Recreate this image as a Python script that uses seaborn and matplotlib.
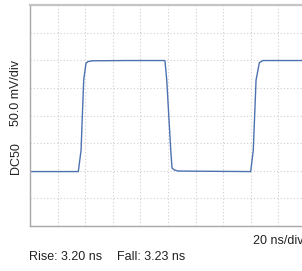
import numpy as np
import pandas as pd
import matplotlib
matplotlib.use("Agg")
import matplotlib.pyplot as plt
import seaborn as sns

# Scope trace: time in ns, level in mV (50 mV/div, 20 ns/div)
time_ns = [0, 35.0, 37.0, 38.9, 40.6, 42.0, 44.9, 70.0, 97.1,
           97.8, 99.1, 102.0, 102.9, 104.5, 107.2, 130.0, 159.9,
           161.8, 163.8, 166.2, 168.8, 185.0, 202.0]
level_mv = [98.5, 98.5, 137.0, 264.0, 295.0, 297.5, 299.0, 299.5, 299.5,
            299.0, 264.0, 137.0, 105.0, 101.5, 99.5, 99.0, 98.5,
            137.0, 264.0, 295.5, 299.5, 299.5, 299.5]

rise_txt = "Rise: 3.20 ns"
fall_txt = "Fall: 3.23 ns"
x_scale = "20 ns/div"
y_scale = "50.0 mV/div"
coupling = "DC50"

df = pd.DataFrame({"t": time_ns, "v": level_mv})

sns.set_style("white")
plt.rcParams['font.family'] = ['Liberation Sans', 'DejaVu Sans']

fig = plt.figure(figsize=(3.02, 2.71), dpi=100)
ax = fig.add_axes([30 / 302, 45 / 271, 276 / 302, 221 / 271])

sns.lineplot(data=df, x="t", y="v", ax=ax, color="#4C72B0", linewidth=1.0,
             sort=False, estimator=None)

ax.set_xlim(0, 200)
ax.set_ylim(0, 400)
ax.set_xticks(np.arange(0, 201, 20))
ax.set_yticks(np.arange(0, 401, 50))
ax.tick_params(length=0, labelbottom=False, labelleft=False)
ax.grid(True, color="#cfcfcf", linestyle=(0, (1, 2)), linewidth=0.8)
ax.set_xlabel("")
ax.set_ylabel("")

for side in ["left", "bottom"]:
    ax.spines[side].set_color("#a8a8a8")
    ax.spines[side].set_linewidth(1.0)
ax.spines["top"].set_color("#c4c4c4")
ax.spines["top"].set_linewidth(1.6)
ax.spines["right"].set_visible(False)

fs = 9
fig.text(16 / 302, 1 - 93.5 / 271, y_scale, rotation=90, ha="center", va="center",
         fontsize=fs, color="#222222")
fig.text(16 / 302, 1 - 158 / 271, coupling, rotation=90, ha="center", va="center",
         fontsize=fs, color="#222222")
fig.text(253 / 302, 1 - 241 / 271, x_scale, ha="left", va="center",
         fontsize=fs, color="#222222")
fig.text(29 / 302, 1 - 257 / 271, rise_txt, ha="left", va="center",
         fontsize=fs, color="#222222")
fig.text(117 / 302, 1 - 257 / 271, fall_txt, ha="left", va="center",
         fontsize=fs, color="#222222")

fig.savefig("out.png", dpi=100)
